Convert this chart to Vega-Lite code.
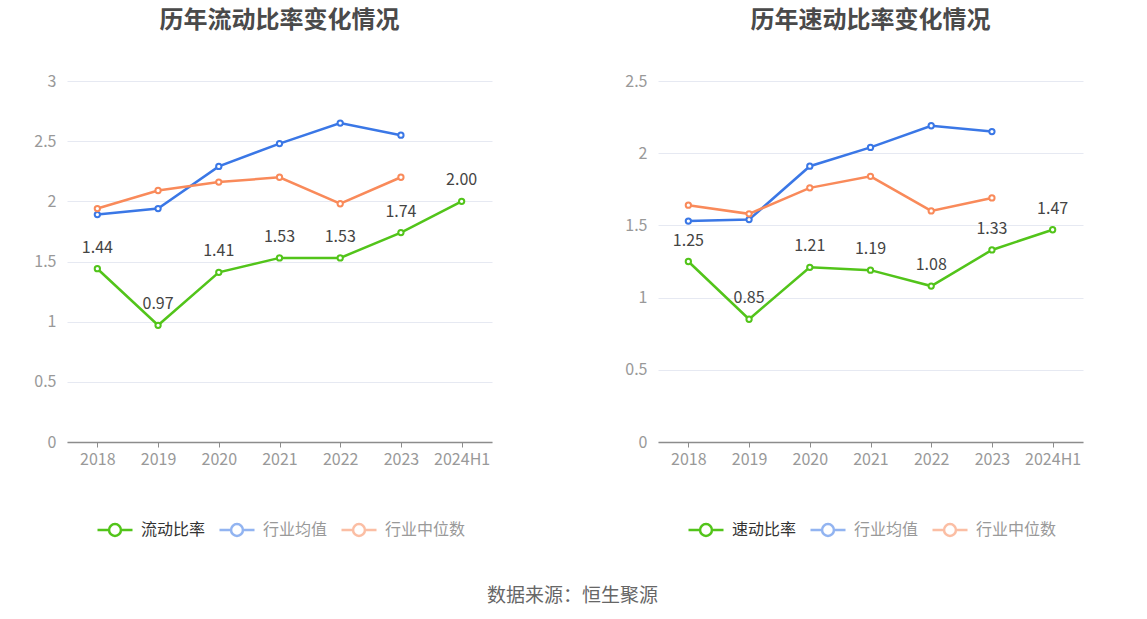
{
  "$schema": "https://vega.github.io/schema/vega-lite/v6.json",
  "background": "white",
  "padding": {"left": 33, "top": 9, "right": 5, "bottom": 5},
  "title": {
    "text": "数据来源：恒生聚源",
    "orient": "bottom",
    "anchor": "start",
    "fontSize": 19,
    "fontWeight": "normal",
    "color": "#666666",
    "offset": 46,
    "dx": 420
  },
  "datasets": {
    "cur": [
      {"year": "2018", "series": "流动比率", "value": 1.44},
      {"year": "2019", "series": "流动比率", "value": 0.97},
      {"year": "2020", "series": "流动比率", "value": 1.41},
      {"year": "2021", "series": "流动比率", "value": 1.53},
      {"year": "2022", "series": "流动比率", "value": 1.53},
      {"year": "2023", "series": "流动比率", "value": 1.74},
      {"year": "2024H1", "series": "流动比率", "value": 2.00},
      {"year": "2018", "series": "行业均值", "value": 1.89},
      {"year": "2019", "series": "行业均值", "value": 1.94},
      {"year": "2020", "series": "行业均值", "value": 2.29},
      {"year": "2021", "series": "行业均值", "value": 2.48},
      {"year": "2022", "series": "行业均值", "value": 2.65},
      {"year": "2023", "series": "行业均值", "value": 2.55},
      {"year": "2018", "series": "行业中位数", "value": 1.94},
      {"year": "2019", "series": "行业中位数", "value": 2.09},
      {"year": "2020", "series": "行业中位数", "value": 2.16},
      {"year": "2021", "series": "行业中位数", "value": 2.20},
      {"year": "2022", "series": "行业中位数", "value": 1.98},
      {"year": "2023", "series": "行业中位数", "value": 2.20}
    ],
    "quick": [
      {"year": "2018", "series": "速动比率", "value": 1.25},
      {"year": "2019", "series": "速动比率", "value": 0.85},
      {"year": "2020", "series": "速动比率", "value": 1.21},
      {"year": "2021", "series": "速动比率", "value": 1.19},
      {"year": "2022", "series": "速动比率", "value": 1.08},
      {"year": "2023", "series": "速动比率", "value": 1.33},
      {"year": "2024H1", "series": "速动比率", "value": 1.47},
      {"year": "2018", "series": "行业均值", "value": 1.53},
      {"year": "2019", "series": "行业均值", "value": 1.54},
      {"year": "2020", "series": "行业均值", "value": 1.91},
      {"year": "2021", "series": "行业均值", "value": 2.04},
      {"year": "2022", "series": "行业均值", "value": 2.19},
      {"year": "2023", "series": "行业均值", "value": 2.15},
      {"year": "2018", "series": "行业中位数", "value": 1.64},
      {"year": "2019", "series": "行业中位数", "value": 1.58},
      {"year": "2020", "series": "行业中位数", "value": 1.76},
      {"year": "2021", "series": "行业中位数", "value": 1.84},
      {"year": "2022", "series": "行业中位数", "value": 1.60},
      {"year": "2023", "series": "行业中位数", "value": 1.69}
    ]
  },
  "spacing": 132,
  "hconcat": [
    {
      "title": {"text": "历年流动比率变化情况"},
      "width": 425,
      "height": 361,
      "data": {"name": "cur"},
      "encoding": {
        "x": {"field": "year", "type": "ordinal", "sort": null, "title": null},
        "y": {
          "field": "value",
          "type": "quantitative",
          "title": null,
          "scale": {"domain": [0, 3]},
          "axis": {"values": [0, 0.5, 1, 1.5, 2, 2.5, 3]}
        },
        "color": {
          "field": "series",
          "type": "nominal",
          "sort": ["流动比率", "行业均值", "行业中位数"],
          "scale": {
            "domain": ["流动比率", "行业均值", "行业中位数"],
            "range": ["#52c41a", "#3a77e6", "#f98a5a"]
          },
          "legend": {
            "orient": "none",
            "legendX": 29,
            "legendY": 430,
            "direction": "horizontal",
            "title": null,
            "encode": {
              "symbols": {"update": {"opacity": {"signal": "datum.value === '流动比率' ? 1 : 0.55"}}},
              "labels": {"update": {"fill": {"signal": "datum.value === '流动比率' ? '#333333' : '#999999'"}}}
            }
          }
        }
      },
      "layer": [
        {"mark": {"type": "line", "strokeWidth": 2.5}},
        {"mark": {"type": "point", "shape": "circle", "filled": false, "fill": "white", "fillOpacity": 1, "opacity": 1, "size": 28, "strokeWidth": 2}},
        {
          "transform": [{"filter": "datum.series === '流动比率'"}],
          "mark": {"type": "text", "dy": -21, "fontSize": 16, "baseline": "middle"},
          "encoding": {
            "text": {"field": "value", "type": "quantitative", "format": ".2f"},
            "color": {"value": "#444444"}
          }
        }
      ]
    },
    {
      "title": {"text": "历年速动比率变化情况"},
      "width": 425,
      "height": 361,
      "data": {"name": "quick"},
      "encoding": {
        "x": {"field": "year", "type": "ordinal", "sort": null, "title": null},
        "y": {
          "field": "value",
          "type": "quantitative",
          "title": null,
          "scale": {"domain": [0, 2.5]},
          "axis": {"values": [0, 0.5, 1, 1.5, 2, 2.5]}
        },
        "color": {
          "field": "series",
          "type": "nominal",
          "sort": ["速动比率", "行业均值", "行业中位数"],
          "scale": {
            "domain": ["速动比率", "行业均值", "行业中位数"],
            "range": ["#52c41a", "#3a77e6", "#f98a5a"]
          },
          "legend": {
            "orient": "none",
            "legendX": 29,
            "legendY": 430,
            "direction": "horizontal",
            "title": null,
            "encode": {
              "symbols": {"update": {"opacity": {"signal": "datum.value === '速动比率' ? 1 : 0.55"}}},
              "labels": {"update": {"fill": {"signal": "datum.value === '速动比率' ? '#333333' : '#999999'"}}}
            }
          }
        }
      },
      "layer": [
        {"mark": {"type": "line", "strokeWidth": 2.5}},
        {"mark": {"type": "point", "shape": "circle", "filled": false, "fill": "white", "fillOpacity": 1, "opacity": 1, "size": 28, "strokeWidth": 2}},
        {
          "transform": [{"filter": "datum.series === '速动比率'"}],
          "mark": {"type": "text", "dy": -21, "fontSize": 16, "baseline": "middle"},
          "encoding": {
            "text": {"field": "value", "type": "quantitative", "format": ".2f"},
            "color": {"value": "#444444"}
          }
        }
      ]
    }
  ],
  "resolve": {
    "scale": {"color": "independent", "y": "independent", "x": "independent"},
    "legend": {"color": "independent"}
  },
  "config": {
    "font": "Noto Sans CJK SC",
    "view": {"stroke": null},
    "title": {
      "fontSize": 24,
      "fontWeight": "bold",
      "color": "#4a4a4a",
      "anchor": "middle",
      "frame": "group",
      "offset": 40
    },
    "axisY": {
      "domain": false,
      "ticks": false,
      "labelColor": "#999999",
      "labelFontSize": 16,
      "labelPadding": 11,
      "gridColor": "#e6e9f2",
      "gridWidth": 1,
      "format": "~g"
    },
    "axisX": {
      "domain": true,
      "domainColor": "#8c8c8c",
      "domainWidth": 1.5,
      "ticks": true,
      "tickColor": "#8c8c8c",
      "tickSize": 5,
      "labelColor": "#999999",
      "labelFontSize": 16,
      "labelPadding": 4,
      "labelAngle": 0,
      "grid": false
    },
    "legend": {
      "symbolType": "M-1,0H-0.34M0.34,0H1M0.34,0A0.34,0.34,0,1,1,-0.34,0A0.34,0.34,0,1,1,0.34,0",
      "symbolSize": 1225,
      "symbolStrokeWidth": 2.5,
      "symbolFillColor": "white",
      "labelFontSize": 16,
      "labelOffset": 7,
      "columnPadding": 8,
      "labelLimit": 200
    }
  }
}
